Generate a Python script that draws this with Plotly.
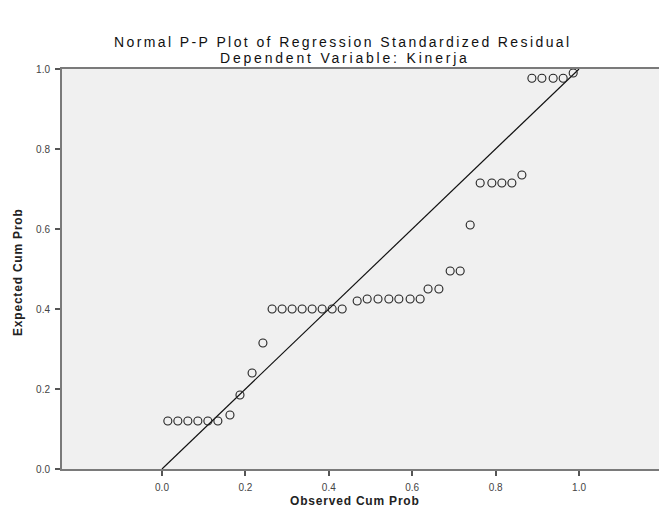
import plotly.graph_objects as go

# Observed vs expected cumulative probabilities
observed = [0.014, 0.038, 0.062, 0.086, 0.110, 0.134, 0.163, 0.187, 0.216, 0.242,
            0.264, 0.288, 0.312, 0.336, 0.360, 0.384, 0.408, 0.432,
            0.468, 0.492, 0.518, 0.544, 0.568, 0.595, 0.619,
            0.638, 0.664, 0.691, 0.715, 0.739,
            0.763, 0.791, 0.815, 0.839, 0.863,
            0.887, 0.911, 0.938, 0.962, 0.986]
expected = [0.12, 0.12, 0.12, 0.12, 0.12, 0.12, 0.135, 0.185, 0.24, 0.315,
            0.40, 0.40, 0.40, 0.40, 0.40, 0.40, 0.40, 0.40,
            0.42, 0.425, 0.425, 0.425, 0.425, 0.425, 0.425,
            0.45, 0.45, 0.495, 0.495, 0.61,
            0.715, 0.715, 0.715, 0.715, 0.735,
            0.977, 0.977, 0.977, 0.977, 0.99]
ref_line = [0.0, 1.0]
tick_vals = [0.0, 0.2, 0.4, 0.6, 0.8, 1.0]
tick_text = ["0.0", "0.2", "0.4", "0.6", "0.8", "1.0"]

title = "Normal P-P Plot of Regression Standardized Residual"
subtitle = "Dependent Variable: Kinerja"
x_title = "Observed Cum Prob"
y_title = "Expected Cum Prob"

FONT = "Liberation Sans"

# page has an 8px body margin; figure is sized to fit the viewport
W, H = 651, 500
L, T = 54, 61
PH = 400
PW = W - L


def py(page_y):
    """page pixel y -> paper coordinate"""
    return ((T + PH) - (page_y - 8)) / PH


def px(page_x):
    return ((page_x - 8) - L) / PW


def spaced(s, sp):
    return '<span style="letter-spacing:%gpx">%s</span>' % (sp, s)


fig = go.Figure()
fig.add_trace(go.Scatter(x=ref_line, y=ref_line, mode="lines",
                         line=dict(color="#111111", width=1.2),
                         hoverinfo="skip", showlegend=False))
fig.add_trace(go.Scatter(x=observed, y=expected, mode="markers",
                         marker=dict(symbol="circle-open", size=8,
                                     color="#222222", line=dict(width=1.1)),
                         showlegend=False))

axis_common = dict(
    showgrid=False, zeroline=False, showline=True, linecolor="#7a7a7a",
    linewidth=2, ticks="outside", ticklen=5, tickwidth=1.5, tickcolor="#555555",
    tickvals=tick_vals, ticktext=tick_text, ticklabelstandoff=3,
    tickfont=dict(family=FONT, size=10, color="#444444"),
)

fig.update_layout(
    width=W, height=H,
    margin=dict(l=L, r=0, t=T, b=H - T - PH, pad=0),
    paper_bgcolor="white", plot_bgcolor="#f0f0f0",
    xaxis=dict(range=[-0.2398, 1.1918], mirror=True, **axis_common),
    yaxis=dict(range=[0, 1], mirror=False, **axis_common),
    annotations=[
        dict(text=spaced(title, 2.4), xref="paper", yref="paper", x=px(343), y=py(42),
             showarrow=False, xanchor="center", yanchor="middle",
             font=dict(family=FONT, size=14, color="#111111")),
        dict(text=spaced(subtitle, 2.8), xref="paper", yref="paper", x=px(345), y=py(58),
             showarrow=False, xanchor="center", yanchor="middle",
             font=dict(family=FONT, size=14, color="#111111")),
        dict(text="<b>" + spaced(x_title, 0.8) + "</b>", xref="paper", yref="paper",
             x=px(355), y=py(501), showarrow=False, xanchor="center", yanchor="middle",
             font=dict(family=FONT, size=12, color="#222222")),
        dict(text="<b>" + spaced(y_title, 0.8) + "</b>", xref="paper", yref="paper",
             x=px(18), y=py(272), textangle=-90, showarrow=False,
             xanchor="center", yanchor="middle",
             font=dict(family=FONT, size=12, color="#222222")),
    ],
)

fig.write_html("out.html")
